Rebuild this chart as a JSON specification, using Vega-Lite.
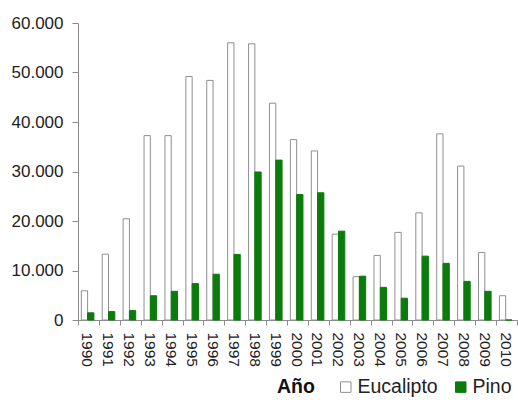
{
  "$schema": "https://vega.github.io/schema/vega-lite/v6.json",
  "width": 439,
  "height": 297,
  "autosize": "none",
  "padding": {"left": 78, "top": 23, "right": 1, "bottom": 80},
  "background": "white",
  "config": {
    "font": "Liberation Sans",
    "view": {"stroke": null},
    "axis": {"grid": false, "domainColor": "#8c8c8c", "tickColor": "#8c8c8c", "labelColor": "#222222", "labelFont": "Liberation Sans"},
    "legend": {"labelFont": "Liberation Sans", "titleFont": "Liberation Sans"}
  },
  "data": {
    "values": [
      {"anio": "1990", "especie": "Eucalipto", "superficie": 5900},
      {"anio": "1990", "especie": "Pino", "superficie": 1450},
      {"anio": "1991", "especie": "Eucalipto", "superficie": 13300},
      {"anio": "1991", "especie": "Pino", "superficie": 1700},
      {"anio": "1992", "especie": "Eucalipto", "superficie": 20450},
      {"anio": "1992", "especie": "Pino", "superficie": 1900},
      {"anio": "1993", "especie": "Eucalipto", "superficie": 37250},
      {"anio": "1993", "especie": "Pino", "superficie": 4900},
      {"anio": "1994", "especie": "Eucalipto", "superficie": 37250},
      {"anio": "1994", "especie": "Pino", "superficie": 5800},
      {"anio": "1995", "especie": "Eucalipto", "superficie": 49200},
      {"anio": "1995", "especie": "Pino", "superficie": 7350},
      {"anio": "1996", "especie": "Eucalipto", "superficie": 48400},
      {"anio": "1996", "especie": "Pino", "superficie": 9250},
      {"anio": "1997", "especie": "Eucalipto", "superficie": 56000},
      {"anio": "1997", "especie": "Pino", "superficie": 13250},
      {"anio": "1998", "especie": "Eucalipto", "superficie": 55800},
      {"anio": "1998", "especie": "Pino", "superficie": 29900},
      {"anio": "1999", "especie": "Eucalipto", "superficie": 43800},
      {"anio": "1999", "especie": "Pino", "superficie": 32300},
      {"anio": "2000", "especie": "Eucalipto", "superficie": 36450},
      {"anio": "2000", "especie": "Pino", "superficie": 25350},
      {"anio": "2001", "especie": "Eucalipto", "superficie": 34150},
      {"anio": "2001", "especie": "Pino", "superficie": 25700},
      {"anio": "2002", "especie": "Eucalipto", "superficie": 17350},
      {"anio": "2002", "especie": "Pino", "superficie": 17950},
      {"anio": "2003", "especie": "Eucalipto", "superficie": 8750},
      {"anio": "2003", "especie": "Pino", "superficie": 8850},
      {"anio": "2004", "especie": "Eucalipto", "superficie": 13050},
      {"anio": "2004", "especie": "Pino", "superficie": 6600},
      {"anio": "2005", "especie": "Eucalipto", "superficie": 17700},
      {"anio": "2005", "especie": "Pino", "superficie": 4400},
      {"anio": "2006", "especie": "Eucalipto", "superficie": 21650},
      {"anio": "2006", "especie": "Pino", "superficie": 12900},
      {"anio": "2007", "especie": "Eucalipto", "superficie": 37600},
      {"anio": "2007", "especie": "Pino", "superficie": 11450},
      {"anio": "2008", "especie": "Eucalipto", "superficie": 31100},
      {"anio": "2008", "especie": "Pino", "superficie": 7800},
      {"anio": "2009", "especie": "Eucalipto", "superficie": 13650},
      {"anio": "2009", "especie": "Pino", "superficie": 5800},
      {"anio": "2010", "especie": "Eucalipto", "superficie": 4900},
      {"anio": "2010", "especie": "Pino", "superficie": 0}
    ]
  },
  "mark": {"type": "bar", "strokeWidth": 1},
  "encoding": {
    "x": {
      "field": "anio",
      "type": "nominal",
      "scale": {"paddingInner": 0, "paddingOuter": 0},
      "axis": {
        "title": null,
        "labelAngle": 90,
        "tickBand": "extent",
        "labelOffset": -1.5,
        "tickSize": 5,
        "labelPadding": 7,
        "labelFontSize": 15.5,
        "labelAlign": "left",
        "labelBaseline": "middle"
      }
    },
    "xOffset": {
      "field": "especie",
      "type": "nominal",
      "scale": {"paddingInner": 0, "paddingOuter": 0.66, "align": 0.4}
    },
    "y": {
      "field": "superficie",
      "type": "quantitative",
      "scale": {"domain": [0, 60000], "nice": false},
      "axis": {
        "title": null,
        "values": [0, 10000, 20000, 30000, 40000, 50000, 60000],
        "labelExpr": "replace(format(datum.value, ','), ',', '.')",
        "tickSize": 6,
        "labelPadding": 9,
        "labelFontSize": 17
      }
    },
    "fill": {
      "field": "especie",
      "type": "nominal",
      "scale": {"domain": ["Eucalipto", "Pino"], "range": ["#ffffff", "#0b7b0b"]},
      "legend": {
        "title": "Año",
        "orient": "none",
        "legendX": 199,
        "legendY": 354,
        "direction": "horizontal",
        "titleOrient": "left",
        "titleFontSize": 19.5,
        "titleFontWeight": "bold",
        "titleColor": "#111111",
        "titlePadding": 21,
        "labelFontSize": 19.5,
        "labelColor": "#222222",
        "symbolType": "square",
        "symbolSize": 110,
        "symbolStrokeWidth": 1,
        "labelOffset": 2,
        "columnPadding": 13
      }
    },
    "stroke": {
      "field": "especie",
      "type": "nominal",
      "scale": {"domain": ["Eucalipto", "Pino"], "range": ["#8f8f8f", "#0b7b0b"]},
      "legend": {
        "title": "Año",
        "orient": "none",
        "legendX": 199,
        "legendY": 354,
        "direction": "horizontal",
        "titleOrient": "left",
        "titleFontSize": 19.5,
        "titleFontWeight": "bold",
        "titleColor": "#111111",
        "titlePadding": 21,
        "labelFontSize": 19.5,
        "labelColor": "#222222",
        "symbolType": "square",
        "symbolSize": 110,
        "symbolStrokeWidth": 1,
        "labelOffset": 2,
        "columnPadding": 13
      }
    }
  }
}
